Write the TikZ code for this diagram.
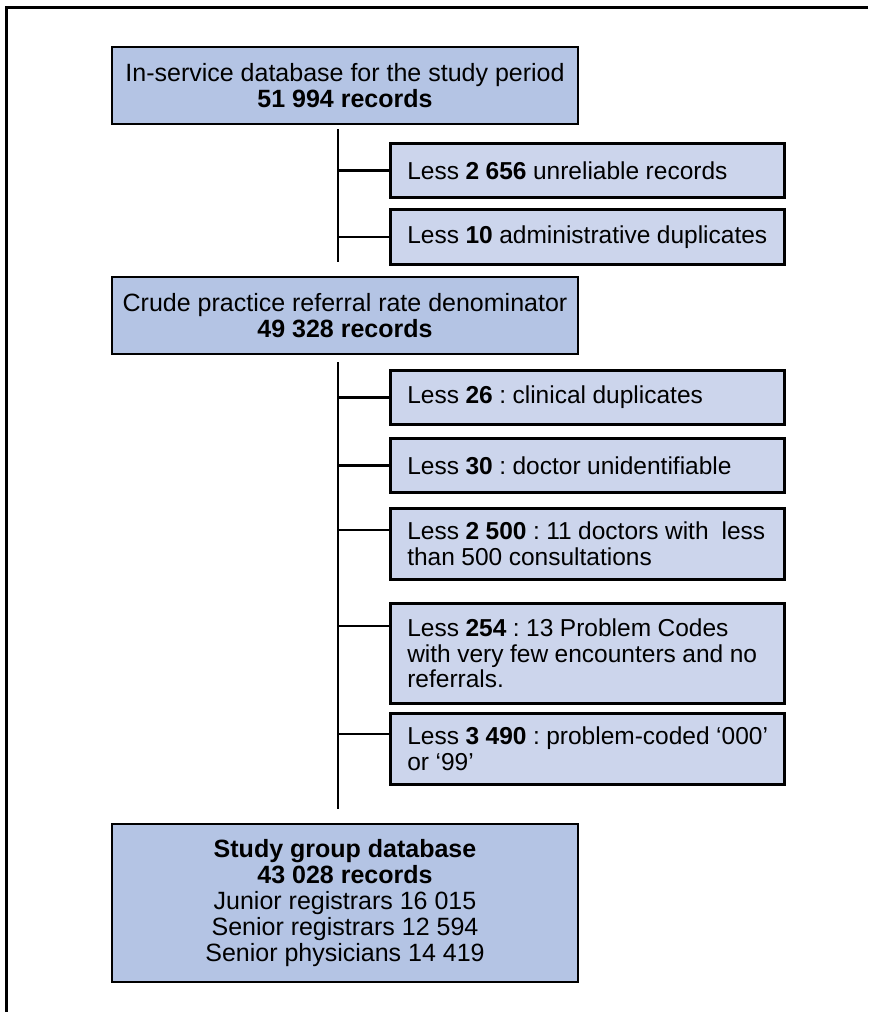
\documentclass[tikz,border=0pt]{standalone}
\usepackage{fontspec}
\setmainfont{Liberation Sans}
\definecolor{mainblue}{RGB}{180,196,228}
\definecolor{sideblue}{RGB}{204,213,236}
\frenchspacing
\newcommand{\oneline}[1]{\mbox{\spaceskip=0.265em\relax #1}}
\begin{document}
\begin{tikzpicture}[x=1pt,y=-1pt,
  txt/.style={font=\fontsize{25}{25.8}\selectfont},
  sidetxt/.style={font=\fontsize{24.5}{25.8}\selectfont},
  mainbox/.style={txt,draw,line width=2.6pt,fill=mainblue,align=center,inner sep=0pt,minimum width=466pt},
  sidebox/.style={sidetxt,draw,line width=2.6pt,fill=sideblue,align=left,text width=360pt,inner xsep=17pt,inner ysep=0pt,anchor=north west},
  conn/.style={line width=2.6pt}]
\useasboundingbox (0,0) rectangle (868,1012);
\fill[white] (0,0) rectangle (868,1012);
\draw[line width=3pt] (868,7) -- (6,7) -- (6,1012);

\node[mainbox,minimum height=77pt] (top) at (345,85.5) {In-service database for the study period\\\textbf{51 994 records}};
\node[sidebox,minimum height=54pt] (s1) at (389,142) {\oneline{Less \textbf{2 656} unreliable records}};
\node[sidebox,minimum height=55pt] (s2) at (389,208) {\oneline{Less \textbf{10} administrative duplicates}};

\node[mainbox,minimum height=77pt] (mid) at (345,315.5) {Crude practice referral rate denominator\\\textbf{49 328 records}};
\node[sidebox,minimum height=54pt] (a) at (389,369) {\oneline{Less \textbf{26} : clinical duplicates}};
\node[sidebox,minimum height=54pt] (b) at (389,437) {\oneline{Less \textbf{30} : doctor unidentifiable}};
\node[sidebox,minimum height=71pt] (c) at (389,507) {\oneline{Less \textbf{2 500} : 11 doctors with\ \ less}\\\oneline{than 500 consultations}};
\node[sidebox,minimum height=100pt] (d) at (389,602) {\oneline{Less \textbf{254} : 13 Problem Codes}\\\oneline{with very few encounters and no}\\\oneline{referrals.}};
\node[sidebox,minimum height=71pt] (e) at (389,712) {\oneline{Less \textbf{3 490} : problem-coded ‘000’}\\\oneline{or ‘99’}};

\node[mainbox,minimum height=158pt] (bot) at (345,903) {\textbf{Study group database}\\\textbf{43 028 records}\\Junior registrars 16 015\\Senior registrars 12 594\\Senior physicians 14 419};

\coordinate (t1a) at (338,129);
\coordinate (t1b) at (338,262);
\coordinate (t2a) at (338,362);
\coordinate (t2b) at (338,809);
\draw[conn] (t1a) -- (t1b);
\draw[conn] (t2a) -- (t2b);
\draw[conn] (s1.west -| t1a) -- (s1.west);
\draw[conn] (s2.west -| t1a) -- (s2.west);
\draw[conn] (a.west -| t2a) -- (a.west);
\draw[conn] (b.west -| t2a) -- (b.west);
\draw[conn] ([yshift=-23pt]c.north west) -- ++(-51,0);
\draw[conn] ([yshift=-24pt]d.north west) -- ++(-51,0);
\draw[conn] ([yshift=-22pt]e.north west) -- ++(-51,0);
\end{tikzpicture}
\end{document}
